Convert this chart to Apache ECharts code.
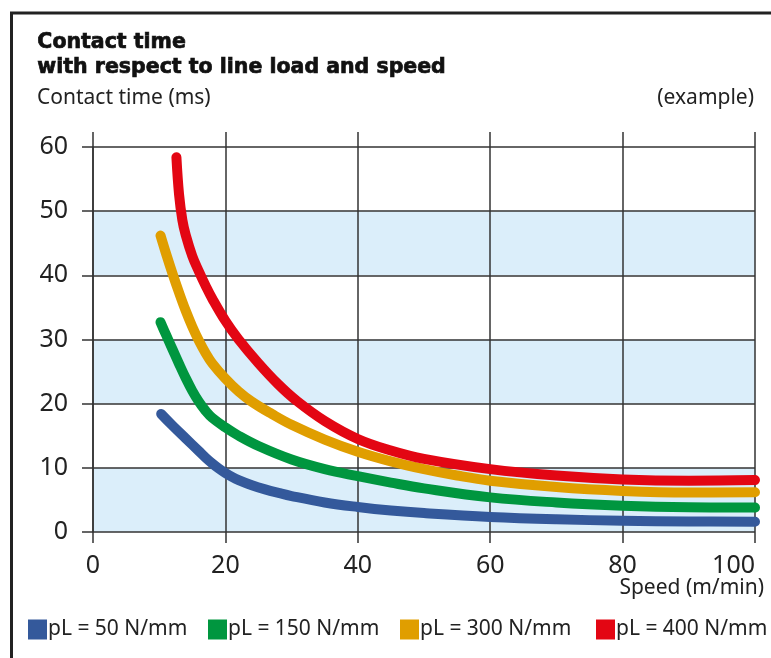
<!DOCTYPE html>
<html>
<head>
<meta charset="utf-8">
<script src="https://cdn.jsdelivr.net/npm/echarts@6/dist/echarts.min.js"></script>
<style>
html,body{margin:0;padding:0;background:#fff;}
#chart{width:771px;height:658px;}
</style>
</head>
<body>
<div id="chart"></div>
<script>
// ---- data ----
const seriesNames = ['pL = 50 N/mm', 'pL = 150 N/mm', 'pL = 300 N/mm', 'pL = 400 N/mm'];
const xTicks = [0, 20, 40, 60, 80, 100];
const yTicks = [0, 10, 20, 30, 40, 50, 60];

const speed50 = [10.3, 12, 14, 16, 17, 18, 19, 20, 21, 22, 24, 26, 28, 30, 35, 40, 45, 50, 60, 70, 80, 90, 100];
const time50  = [18.4, 16.6, 14.6, 12.6, 11.6, 10.7, 9.9, 9.2, 8.6, 8.1, 7.3, 6.65, 6.1, 5.6, 4.6, 3.9, 3.35, 2.95, 2.35, 1.98, 1.76, 1.65, 1.6];

const speed150 = [10.2, 11, 12, 13, 14, 15, 16, 17, 18, 20, 22, 25, 30, 35, 40, 45, 50, 60, 70, 80, 90, 100];
const time150  = [32.7, 30.8, 28.5, 26.2, 24.0, 22.0, 20.3, 18.9, 17.8, 16.3, 15.0, 13.4, 11.3, 9.8, 8.7, 7.7, 6.8, 5.4, 4.6, 4.1, 3.85, 3.8];

const speed300 = [10.2, 11, 12, 13, 14, 15, 16, 17, 18, 20, 22, 24, 27, 30, 35, 40, 45, 50, 55, 60, 70, 80, 90, 100];
const time300  = [46.2, 43.5, 40.3, 37.3, 34.5, 32.0, 29.8, 27.9, 26.3, 23.9, 21.9, 20.3, 18.4, 16.7, 14.4, 12.5, 11.0, 9.8, 8.8, 8.0, 7.0, 6.4, 6.15, 6.2];

const speed400 = [12.6, 13.0, 13.5, 14, 15, 16, 17, 18, 20, 22, 25, 28, 30.7, 35, 40, 45, 50, 60, 70, 80, 90, 100];
const time400  = [58.4, 52.6, 48.6, 46.3, 43.0, 40.6, 38.4, 36.4, 32.9, 30.0, 26.3, 23.0, 20.5, 17.3, 14.5, 12.7, 11.4, 9.8, 8.8, 8.2, 8.0, 8.1];

const colors = ['#34599b', '#00963f', '#e09e00', '#e30613'];

// ---- chart ----
const pairs = (xs, ys) => xs.map((x, i) => [x, ys[i]]);
const allData = [pairs(speed50, time50), pairs(speed150, time150), pairs(speed300, time300), pairs(speed400, time400)];

const font = '"Noto Sans", sans-serif';
const chart = echarts.init(document.getElementById('chart'), null, {renderer: 'canvas'});

const legendLefts = [28, 208, 400, 596];

const option = {
  animation: false,
  backgroundColor: '#fff',
  grid: {left: 93, top: 147, width: 662, height: 385, containLabel: false, outerBoundsMode: 'none'},
  xAxis: [{
    type: 'value', min: xTicks[0], max: xTicks[xTicks.length - 1], interval: 20,
    axisLine: {show: false},
    axisTick: {show: true, inside: false, length: 11, lineStyle: {color: '#333', width: 1.5}},
    axisLabel: {show: true, margin: 21, fontSize: 25, color: '#222', fontFamily: font, alignMaxLabel: 'right'},
    splitLine: {show: true, lineStyle: {color: '#333', width: 1.5}}
  }, {
    type: 'value', position: 'top', min: xTicks[0], max: xTicks[xTicks.length - 1], interval: 20,
    axisLine: {show: false},
    axisTick: {show: true, inside: false, length: 15, lineStyle: {color: '#333', width: 1.5}},
    axisLabel: {show: false},
    splitLine: {show: false}
  }],
  yAxis: {
    type: 'value', min: yTicks[0], max: yTicks[yTicks.length - 1], interval: 10,
    axisLine: {show: true, lineStyle: {color: '#333', width: 1.5}},
    axisTick: {show: true, inside: false, length: 11, lineStyle: {color: '#333', width: 1.5}},
    axisLabel: {show: true, margin: 25, fontSize: 25, color: '#222', fontFamily: font},
    splitLine: {show: true, lineStyle: {color: '#333', width: 1.5}},
    splitArea: {show: true, areaStyle: {color: ['#dbeefa', '#ffffff']}}
  },
  legend: seriesNames.map((n, i) => ({
    data: [n], left: legendLefts[i], top: 619, icon: 'rect', itemWidth: 19, itemHeight: 20,
    padding: 0, itemGap: 0, selectedMode: false,
    textStyle: {fontSize: 21, color: '#222', fontFamily: font, padding: [6, 0, 0, -4]}
  })),
  series: allData.map((d, i) => ({
    name: seriesNames[i], type: 'line', data: d, smooth: 0.4, symbol: 'none',
    xAxisIndex: 0, z: 5 + i,
    itemStyle: {color: colors[i]},
    lineStyle: {color: colors[i], width: 10, cap: 'round', join: 'round'}
  })),
  graphic: [
    {type: 'rect', left: 9, top: 10.5, shape: {x: 0, y: 0, width: 800, height: 700},
     style: {fill: 'none', stroke: '#222', lineWidth: 3}, silent: true},
    {type: 'text', left: 37, top: 30, style: {text: 'Contact time\nwith respect to line load and speed',
      font: 'bold 20.5px "DejaVu Sans", sans-serif', lineHeight: 25, fill: '#111', stroke: '#111', lineWidth: 0.7}},
    {type: 'text', left: 37, top: 88, style: {text: 'Contact time (ms)', font: '21px ' + font, fill: '#222'}},
    {type: 'text', right: 17, top: 88, style: {text: '(example)', font: '21px ' + font, fill: '#222'}},
    {type: 'text', right: 7, top: 578, style: {text: 'Speed (m/min)', font: '21px ' + font, fill: '#222'}}
  ]
};
chart.setOption(option);
</script>
</body>
</html>
